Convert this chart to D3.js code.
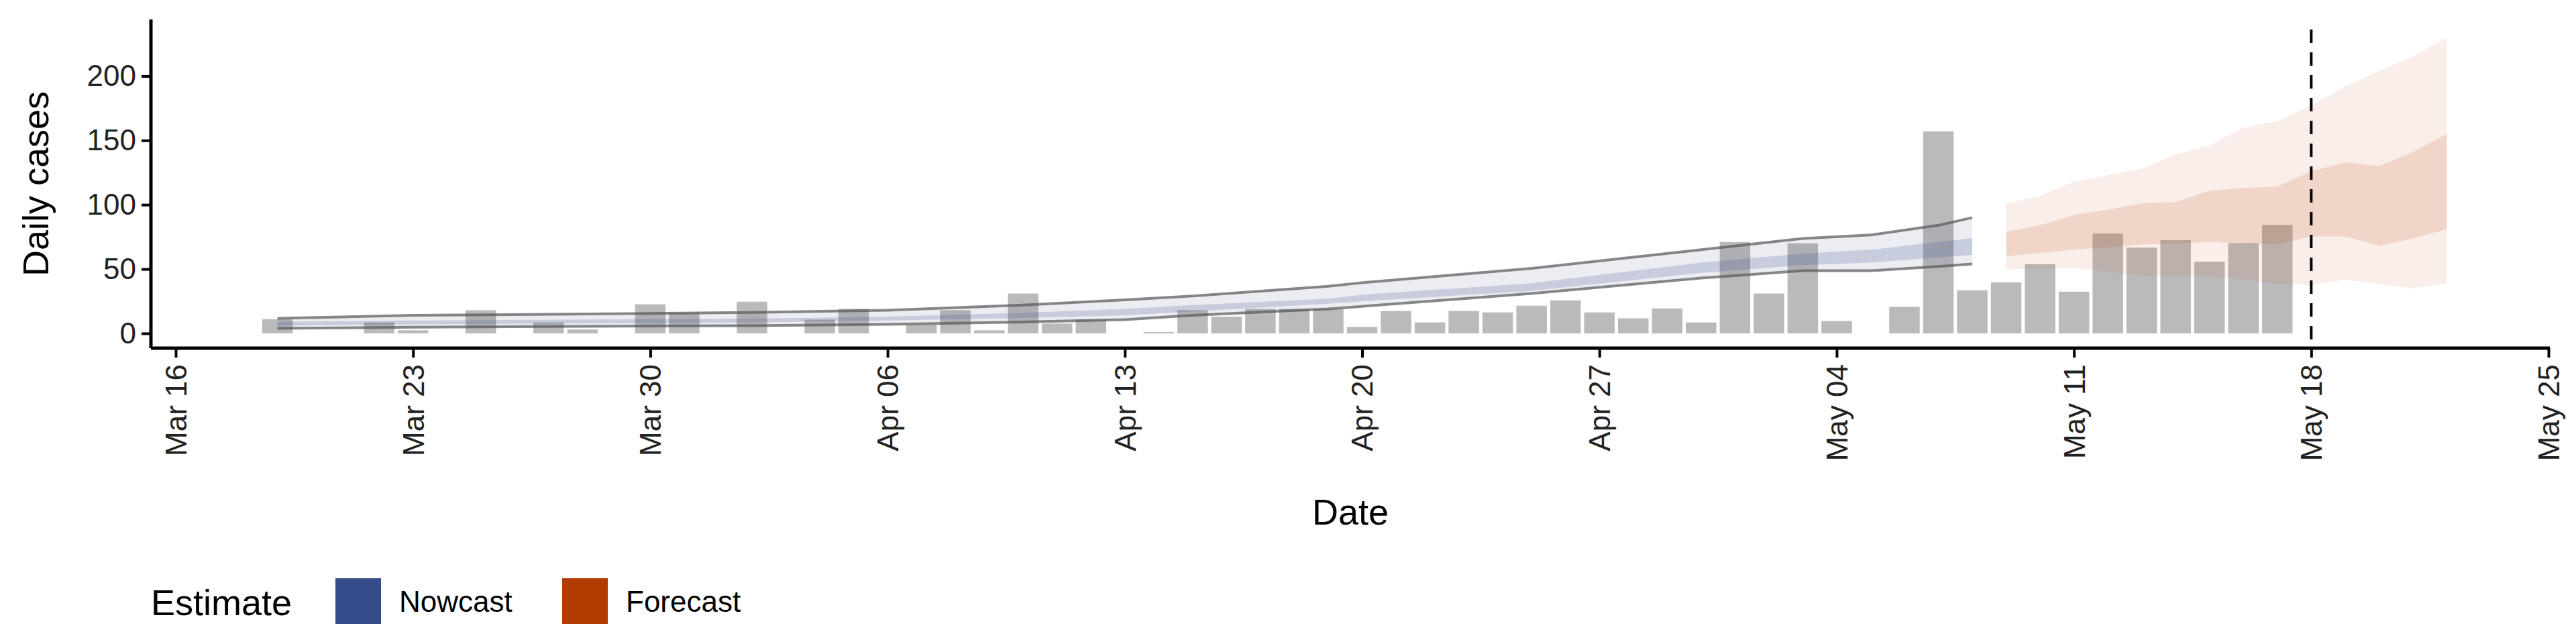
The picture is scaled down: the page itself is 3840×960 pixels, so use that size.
<!DOCTYPE html>
<html lang="en">
<head>
<meta charset="UTF-8">
<title>Daily cases</title>
<script src="https://cdn.jsdelivr.net/npm/d3@7"></script>
<style>body{margin:0;background:#fff}</style>
</head>
<body>
<svg width="3840" height="960" id="mainsvg"></svg>
<script>
    const parse = d3.timeParse('%Y-%m-%d')

    // observed daily cases (from Mar 19 to May 17)
    const caseStart = '2020-03-19'
    const cases = [11, 0, 0, 8.5, 2.4, 0, 18, 0, 8.5, 3, 0, 22.6, 16, 0, 24.6, 0, 10.7, 19, 0, 6.7,
        18, 2.4, 31, 7.6, 10.7, 0, 1, 18, 13, 19, 19, 19, 5, 17.4, 8.5, 17.4, 16.3, 21.5, 25.7, 16.3,
        11.7, 19.4, 8.5, 71, 31, 70, 9.6, 0, 20.6, 157, 33.5, 39.6, 53.7, 32.4, 77.6, 66.7, 72.4, 55.7, 70.2, 84.3]

    // nowcast band (key dates), 90% and 50%
    const nowDates = ['2020-03-19', '2020-03-23', '2020-03-30', '2020-04-02', '2020-04-06', '2020-04-10', '2020-04-13', '2020-04-15', '2020-04-19',
        '2020-04-20', '2020-04-25', '2020-04-30', '2020-05-03', '2020-05-05', '2020-05-07', '2020-05-08']
    const nowUpper90 = [11.7, 14, 15.5, 16.3, 18, 22, 26, 29, 36.6, 39.4, 50.5, 65, 73.7, 76.5, 84, 90]
    const nowLower90 = [3.9, 4.8, 5.7, 6, 7, 8.9, 10.7, 14, 19, 21, 31, 43, 48.7, 48.7, 52, 54]
    const nowUpper50 = [9, 10, 11, 11.5, 13, 16, 19, 22, 27, 30, 39, 55, 62, 65, 71, 74]
    const nowLower50 = [6, 7, 8, 8.5, 10, 12, 14, 17, 23, 25, 33, 47, 53, 55, 59, 61]

    // forecast band May 9 - May 22
    const fcStart = '2020-05-09'
    const fcUpper90 = [100.6, 107, 118, 123, 128, 139, 146, 160, 165, 177, 192, 204, 215, 230]
    const fcLower90 = [49.6, 50.5, 51, 48, 45, 44, 44, 42, 38.5, 37.6, 41.7, 38.5, 35, 39]
    const fcUpper50 = [79, 84, 92, 96, 101, 102, 111, 113, 114, 126, 133, 130, 141, 155]
    const fcLower50 = [60, 62.6, 65, 67, 69, 70, 71, 70, 69, 75.5, 75.5, 68, 73.7, 81]

    const xTicks = ['2020-03-16', '2020-03-23', '2020-03-30', '2020-04-06', '2020-04-13', '2020-04-20',
        '2020-04-27', '2020-05-04', '2020-05-11', '2020-05-18', '2020-05-25']
    const yTicks = [0, 50, 100, 150, 200]
    const estimateDate = '2020-05-18'

    const svg = d3.select('#mainsvg')
    const font = 'Liberation Sans, Arial, sans-serif'
    const plotLeft = 225, plotTop = 29, plotBottom = 519, plotRight = 3801

    const xScale = d3.scaleTime()
        .domain([parse('2020-03-16'), parse('2020-05-25')])
        .range([262, 3799])
    const yScale = d3.scaleLinear().domain([-11.5, 244]).range([plotBottom, plotTop])
    const day = xScale(d3.timeDay.offset(parse('2020-03-16'), 1)) - xScale(parse('2020-03-16'))

    const caseData = cases.map((v, i) => ({ date: d3.timeDay.offset(parse(caseStart), i), value: v }))
    const nowData = nowDates.map((d, i) => ({ date: parse(d), u90: nowUpper90[i], l90: nowLower90[i], u50: nowUpper50[i], l50: nowLower50[i] }))
    const fcData = fcUpper90.map((v, i) => ({ date: d3.timeDay.offset(parse(fcStart), i), u90: v, l90: fcLower90[i], u50: fcUpper50[i], l50: fcLower50[i] }))

    const g = svg.append('g')

    // bars
    g.selectAll('.bar').data(caseData.filter(d => d.value > 0)).enter().append('rect')
        .attr('class', 'bar')
        .attr('x', d => xScale(d.date) - day * 0.45)
        .attr('width', day * 0.9)
        .attr('y', d => yScale(d.value))
        .attr('height', d => yScale(0) - yScale(d.value))
        .attr('fill', '#bababa')

    const area = (lo, hi) => d3.area().x(d => xScale(d.date)).y0(d => yScale(d[lo])).y1(d => yScale(d[hi]))
    const line = key => d3.line().x(d => xScale(d.date)).y(d => yScale(d[key]))

    g.append('path').datum(nowData).attr('d', area('l90', 'u90')).attr('fill', '#3a4f8b').attr('opacity', 0.1)
    g.append('path').datum(nowData).attr('d', area('l50', 'u50')).attr('fill', '#3a4f8b').attr('opacity', 0.2)
    g.append('path').datum(nowData).attr('d', line('u90')).attr('fill', 'none').attr('stroke', '#555').attr('stroke-width', 4).attr('opacity', 0.7)
    g.append('path').datum(nowData).attr('d', line('l90')).attr('fill', 'none').attr('stroke', '#555').attr('stroke-width', 4).attr('opacity', 0.7)

    g.append('path').datum(fcData).attr('d', area('l90', 'u90')).attr('fill', '#c1592a').attr('opacity', 0.1)
    g.append('path').datum(fcData).attr('d', area('l50', 'u50')).attr('fill', '#c1592a').attr('opacity', 0.17)

    // estimate date
    g.append('line')
        .attr('x1', xScale(parse(estimateDate))).attr('x2', xScale(parse(estimateDate)))
        .attr('y1', 44).attr('y2', plotBottom)
        .attr('stroke', '#000').attr('stroke-width', 4).attr('stroke-dasharray', '20,14')

    // axes
    const xAxis = d3.axisBottom(xScale).tickValues(xTicks.map(parse)).tickFormat(d3.timeFormat('%b %d')).tickSize(14).tickSizeOuter(0)
    const xg = svg.append('g').attr('transform', `translate(0,${plotBottom})`).call(xAxis)
    xg.select('.domain').attr('d', `M${plotLeft},0H${plotRight}`).attr('stroke-width', 5)
    xg.selectAll('.tick line').attr('stroke-width', 4)
    xg.selectAll('.tick text')
        .attr('font-family', font).attr('font-size', 44).attr('fill', '#222')
        .attr('transform', 'rotate(-90)').attr('text-anchor', 'end')
        .attr('x', -24).attr('y', 0).attr('dy', '0.35em')

    const yAxis = d3.axisLeft(yScale).tickValues(yTicks).tickSize(14).tickSizeOuter(0)
    const yg = svg.append('g').attr('transform', `translate(${plotLeft},0)`).call(yAxis)
    yg.select('.domain').attr('d', `M0,${plotTop}V${plotBottom}`).attr('stroke-width', 5)
    yg.selectAll('.tick line').attr('stroke-width', 4)
    yg.selectAll('.tick text').attr('font-family', font).attr('font-size', 44).attr('fill', '#222').attr('x', -22)

    svg.append('text').text('Date').attr('x', (plotLeft + plotRight) / 2).attr('y', 782)
        .attr('text-anchor', 'middle').attr('font-family', font).attr('font-size', 54)
    svg.append('text').text('Daily cases').attr('transform', `translate(72,${(plotTop + plotBottom) / 2}) rotate(-90)`)
        .attr('text-anchor', 'middle').attr('font-family', font).attr('font-size', 54)

    // legend
    const legend = svg.append('g')
    legend.append('text').text('Estimate').attr('x', 225).attr('y', 917).attr('font-family', font).attr('font-size', 54)
    const items = [{ name: 'Nowcast', color: '#364b89', x: 500 }, { name: 'Forecast', color: '#b33b02', x: 838 }]
    items.forEach(it => {
        legend.append('rect').attr('x', it.x).attr('y', 862).attr('width', 68).attr('height', 68).attr('fill', it.color)
        legend.append('text').text(it.name).attr('x', it.x + 95).attr('y', 912).attr('font-family', font).attr('font-size', 44)
    })
</script>
</body>
</html>
